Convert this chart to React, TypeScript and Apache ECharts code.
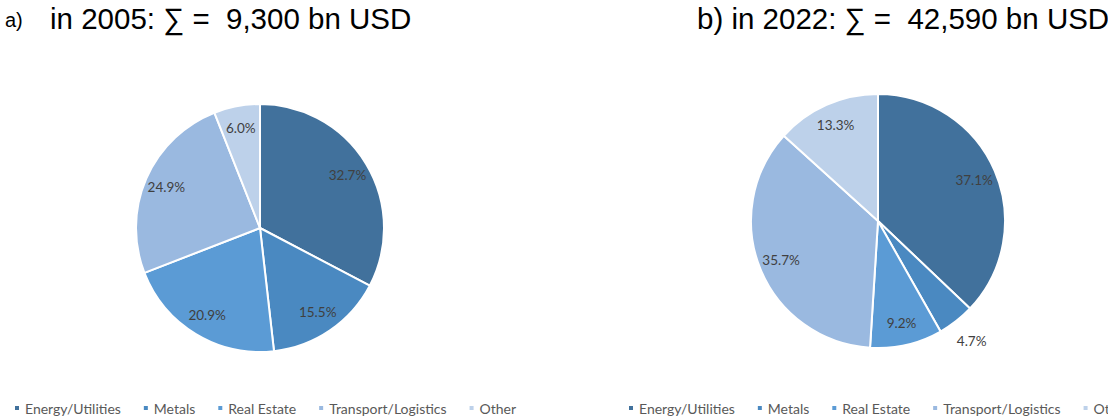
import React, { useEffect, useRef } from "react";
import * as echarts from "echarts";

const categories = ["Energy/Utilities", "Metals", "Real Estate", "Transport/Logistics", "Other"];
const shares2005 = [32.7, 15.5, 20.9, 24.9, 6.0];
const shares2022 = [37.1, 4.7, 9.2, 35.7, 13.3];
const colors = ["#41719C", "#4A89C1", "#5B9BD5", "#9AB9E0", "#BDD1EA"];
const title2005 = "in 2005: \u2211 =  9,300 bn USD";
const title2022 = "b) in 2022: \u2211 =  42,590 bn USD";
// labels placed outside the pie (by category index)
const outside2005: number[] = [];
const outside2022 = [1];

const fmt = (p: any) => Number(p.value).toFixed(1) + "%";
const labelFont = { color: "#404040", fontSize: 13.5, fontFamily: "Lato" };

function pieSeries(values: number[], outside: number[], center: [number, number], R: number) {
  const base = {
    type: "pie",
    center,
    startAngle: 90,
    clockwise: true,
    avoidLabelOverlap: false,
    animation: false,
  };
  return [
    {
      ...base,
      radius: [0, R],
      silent: true,
      label: { show: false },
      labelLine: { show: false },
      itemStyle: { borderColor: "#ffffff", borderWidth: 2 },
      data: values.map((v, i) => ({ name: categories[i], value: v, itemStyle: { color: colors[i] } })),
    },
    {
      ...base,
      radius: [R * 0.6, R],
      silent: true,
      legendHoverLink: false,
      labelLine: { show: false },
      label: { show: true, position: "inside", formatter: fmt, ...labelFont },
      itemStyle: { color: "rgba(0,0,0,0)", borderWidth: 0 },
      data: values.map((v, i) => ({
        name: categories[i],
        value: v,
        label: { show: !outside.includes(i) },
      })),
    },
    {
      ...base,
      radius: [R * 1.1, R * 1.25],
      silent: true,
      legendHoverLink: false,
      labelLine: { show: false },
      label: { show: true, position: "inside", formatter: fmt, ...labelFont },
      itemStyle: { color: "rgba(0,0,0,0)", borderWidth: 0 },
      data: values.map((v, i) => ({
        name: categories[i],
        value: v,
        label: { show: outside.includes(i) },
      })),
    },
  ];
}

function legend(left: number) {
  return {
    left,
    top: 396,
    width: 1200,
    orient: "horizontal",
    icon: "rect",
    itemWidth: 6,
    itemHeight: 6,
    itemGap: 21,
    selectedMode: false,
    data: categories,
    textStyle: { color: "#595959", fontSize: 14, fontFamily: "Lato" },
  };
}

export default function App() {
  const ref = useRef<HTMLDivElement>(null);
  useEffect(() => {
    document.body.style.margin = "0";
    const chart = echarts.init(ref.current!, undefined, { renderer: "svg" });
    chart.setOption({
      animation: false,
      backgroundColor: "#ffffff",
      color: colors,
      title: [
        {
          text: "a)",
          left: 0,
          top: 5,
          textStyle: { fontFamily: "Liberation Sans", fontSize: 20, fontWeight: "normal", color: "#000" },
        },
        {
          text: title2005,
          left: 45,
          top: -2,
          textStyle: { fontFamily: "Liberation Sans", fontSize: 29.5, fontWeight: "normal", color: "#000" },
        },
        {
          text: title2022,
          left: 692,
          top: -2,
          textStyle: { fontFamily: "Liberation Sans", fontSize: 29.5, fontWeight: "normal", color: "#000" },
        },
      ],
      legend: [legend(8), legend(622)],
      series: [
        ...pieSeries(shares2005, outside2005, [260, 228], 124),
        ...pieSeries(shares2022, outside2022, [878, 221], 127),
      ],
    });
    return () => chart.dispose();
  }, []);
  return <div ref={ref} style={{ position: "absolute", left: 0, top: 0, width: 1108, height: 416 }} />;
}
